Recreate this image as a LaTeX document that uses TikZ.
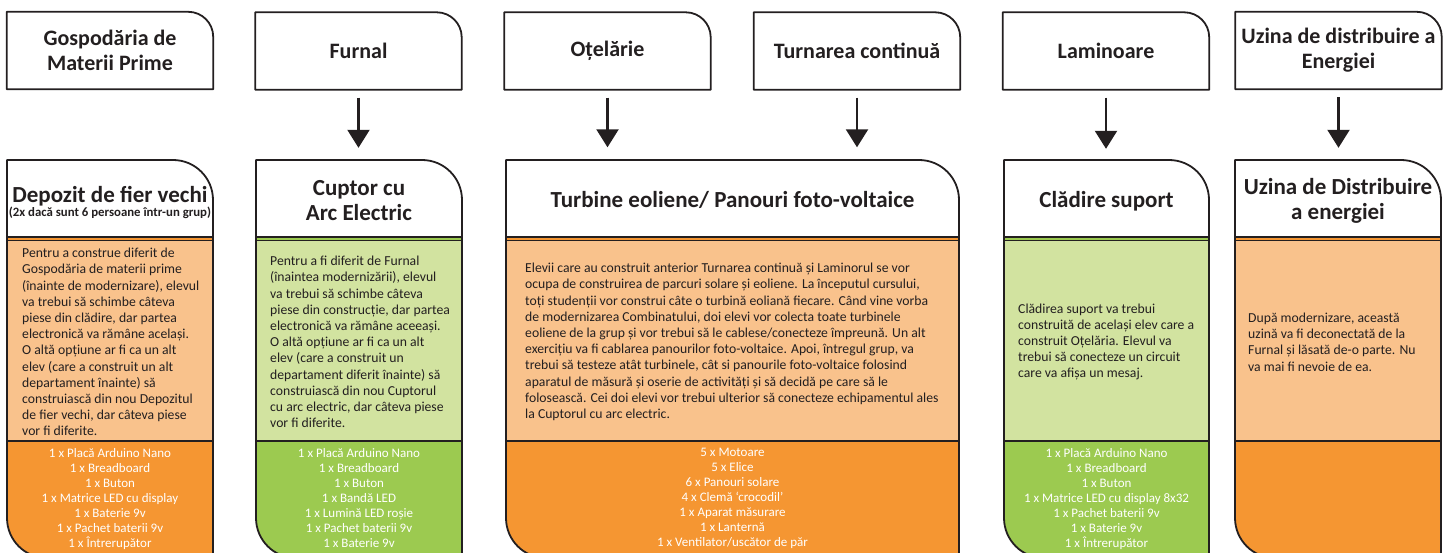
\documentclass[tikz,border=0pt]{standalone}
\usepackage{fontspec}
\setmainfont{Carlito}
\usetikzlibrary{arrows.meta}

\definecolor{orangeD}{RGB}{245,150,50}
\definecolor{orangeL}{RGB}{249,194,140}
\definecolor{greenD}{RGB}{156,202,80}
\definecolor{greenL}{RGB}{210,227,160}
\definecolor{ink}{RGB}{35,31,32}

% frame of one column: left x, right x, dark colour, light colour
\newcommand{\colframe}[4]{%
  \fill[#3] (#1,392) -- ({#2-40},392) arc[start angle=90,end angle=0,radius=40]
     -- (#2,-6) -- ({#1+40},-6) arc[start angle=270,end angle=180,radius=40] -- cycle;
  \fill[#4] (#1,311.5) rectangle (#2,111);
  \fill[white] (#1,315) -- (#1,392) -- ({#2-40},392) arc[start angle=90,end angle=0,radius=40]
     -- (#2,315) -- cycle;
  \draw[edge] (#1,315) -- (#2,315);
  \draw[edge] (#1,311.5) -- (#2,311.5);
  \draw[edge] (#1,111) -- (#2,111);
  \draw[edge] (#1,392) -- ({#2-40},392) arc[start angle=90,end angle=0,radius=40]
     -- (#2,-6) -- ({#1+40},-6) arc[start angle=270,end angle=180,radius=40] -- cycle;
}

\tikzset{
  edge/.style = {draw=ink, line width=1.8pt, line join=round},
  topbox/.style = {minimum width=206pt, minimum height=77pt, inner sep=0pt, align=center,
                   text=ink, font=\fontsize{22}{25}\selectfont\bfseries},
  ttl/.style = {minimum height=77pt, inner sep=0pt, align=center,
                text=ink, font=\fontsize{23}{25}\selectfont\bfseries},
  desc/.style = {anchor=west, inner sep=0pt, align=left, text=ink,
                 font=\fontsize{13.7}{16.2}\selectfont},
  items/.style = {anchor=north, inner sep=0pt, align=center, text=white,
                  font=\fontsize{13}{15}\selectfont},
  arr/.style = {draw=ink, line width=2.2pt, -{Triangle[width=22pt,length=18pt]},
                shorten <=8pt, shorten >=14pt}
}

\begin{document}
\begin{tikzpicture}[x=1pt, y=1pt]
\useasboundingbox (0,0) rectangle (1453,552);

% top row
\node[topbox] (gosp)   at (110,501.5)    {Gospodăria de\\Materii Prime};
\node[topbox] (furnal) at (358.5,501)    {Furnal};
\node[topbox] (otel)   at (607.5,501)    {Oțelărie};
\node[topbox] (turn)   at (857,501)      {Turnarea continuă};
\node[topbox] (lamin)  at (1106,501)     {Laminoare};
\node[topbox] (uzina)  at (1338.5,501.5) {Uzina de distribuire a\\Energiei};

\foreach \n in {gosp,furnal,otel,turn,lamin,uzina}
  \draw[edge] (\n.south west) |- ([xshift=-25pt]\n.north east)
     arc[start angle=90,end angle=0,radius=25] -- (\n.south east) -- cycle;

% columns
\colframe{7}{213}{orangeD}{orangeL}
\colframe{256}{462}{greenD}{greenL}
\colframe{506}{959}{orangeD}{orangeL}
\colframe{1004}{1209}{greenD}{greenL}
\colframe{1235}{1441}{orangeD}{orangeL}

\node[ttl, minimum width=206pt] (depozit) at (110,349.5)
  {Depozit de fier vechi\\[-11pt]{\fontsize{12.8}{14}\selectfont(2x dacă sunt 6 persoane într-un grup)}};
\node[ttl, minimum width=206pt] (cuptor)  at (359,351.5)    {Cuptor cu\\Arc Electric};
\node[ttl, minimum width=453pt] (turbine) at (732.5,352)    {Turbine eoliene/ Panouri foto-voltaice};
\node[ttl, minimum width=205pt] (cladire) at (1106.5,350.5) {Clădire suport};
\node[ttl, minimum width=206pt] (uzinab)  at (1338,351.5)   {Uzina de Distribuire\\a energiei};

\node[desc] (depozitd) at (22,210) {Pentru a construe diferit de\\Gospodăria de materii prime\\(înainte de modernizare), elevul\\va trebui să schimbe câteva\\piese din clădire, dar partea\\electronică va rămâne același.\\O altă opțiune ar fi ca un alt\\elev (care a construit un alt\\departament înainte) să\\construiască din nou Depozitul\\de fier vechi, dar câteva piese\\vor fi diferite.};
\node[desc] (cuptord) at (270,210) {Pentru a fi diferit de Furnal\\(înaintea modernizării), elevul\\va trebui să schimbe câteva\\piese din construcție, dar partea\\electronică va rămâne aceeași.\\O altă opțiune ar fi ca un alt\\elev (care a construit un\\departament diferit înainte) să\\construiască din nou Cuptorul\\cu arc electric, dar câteva piese\\vor fi diferite.};
\node[desc] (turbined) at (525,210) {Elevii care au construit anterior Turnarea continuă și Laminorul se vor\\ocupa de construirea de parcuri solare și eoliene. La începutul cursului,\\toți studenții vor construi câte o turbină eoliană fiecare. Când vine vorba\\de modernizarea Combinatului, doi elevi vor colecta toate turbinele\\eoliene de la grup și vor trebui să le cablese/conecteze împreună. Un alt\\exercițiu va fi cablarea panourilor foto-voltaice. Apoi, întregul grup, va\\trebui să testeze atât turbinele, cât si panourile foto-voltaice folosind\\aparatul de măsură și oserie de activități și să decidă pe care să le\\folosească. Cei doi elevi vor trebui ulterior să conecteze echipamentul ales\\la Cuptorul cu arc electric.};
\node[desc] (cladired) at (1018,210) {Clădirea suport va trebui\\construită de același elev care a\\construit Oțelăria. Elevul va\\trebui să conecteze un circuit\\care va afișa un mesaj.};
\node[desc] (uzinad) at (1248,210) {După modernizare, această\\uzină va fi deconectată de la\\Furnal și lăsată de-o parte. Nu\\va mai fi nevoie de ea.};

\node[items] (depozitl) at (110,104) {1 x Placă Arduino Nano\\1 x Breadboard\\1 x Buton\\1 x Matrice LED cu display\\1 x Baterie 9v\\1 x Pachet baterii 9v\\1 x Întrerupător};
\node[items] (cuptorl) at (359,104) {1 x Placă Arduino Nano\\1 x Breadboard\\1 x Buton\\1 x Bandă LED\\1 x Lumină LED roșie\\1 x Pachet baterii 9v\\1 x Baterie 9v};
\node[items] (turbinel) at (732.5,104) {5 x Motoare\\5 x Elice\\6 x Panouri solare\\4 x Clemă ‘crocodil’\\1 x Aparat măsurare\\1 x Lanternă\\1 x Ventilator/uscător de păr};
\node[items] (cladirel) at (1106.5,104) {1 x Placă Arduino Nano\\1 x Breadboard\\1 x Buton\\1 x Matrice LED cu display 8x32\\1 x Pachet baterii 9v\\1 x Baterie 9v\\1 x Întrerupător};

% arrows
\draw[arr] (furnal.south) -- (furnal.south |- cuptor.north);
\draw[arr] (otel.south)   -- (otel.south |- turbine.north);
\draw[arr] (turn.south)   -- (turn.south |- turbine.north);
\draw[arr] (lamin.south)  -- (lamin.south |- cladire.north);
\draw[arr] (uzina.south)  -- (uzina.south |- uzinab.north);

\end{tikzpicture}
\end{document}
